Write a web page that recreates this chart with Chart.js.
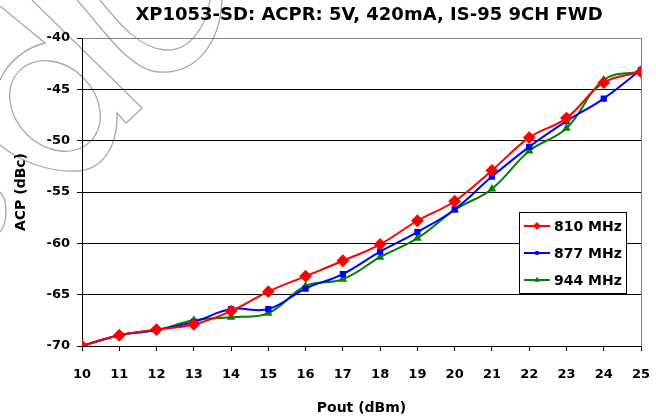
<!DOCTYPE html>
<html>
<head>
<meta charset="utf-8">
<script src="https://cdn.jsdelivr.net/npm/chart.js@4.4.0/dist/chart.umd.min.js"></script>
<style>
  html, body { margin: 0; padding: 0; background: #fff; }
  #wrap { width: 656px; height: 420px; }
</style>
</head>
<body>
<div id="wrap"><canvas id="acprChart" width="656" height="420"></canvas></div>
<script>
// Pout (dBm)
var pout = [10, 11, 12, 13, 14, 15, 16, 17, 18, 19, 20, 21, 22, 23, 24, 25];
// ACP (dBc) per frequency
var acp810 = [-70, -68.95, -68.4, -67.9, -66.6, -64.7, -63.2, -61.7, -60.1, -57.8, -55.9, -52.9, -49.7, -47.8, -44.35, -43.3];
var acp877 = [-70, -68.95, -68.45, -67.65, -66.4, -66.4, -64.4, -63.0, -60.8, -58.9, -56.7, -53.5, -50.6, -48.1, -45.9, -43.1];
var acp944 = [-70, -68.95, -68.45, -67.5, -67.2, -66.8, -64.15, -63.5, -61.35, -59.5, -56.75, -54.7, -51.0, -48.8, -44.1, -43.25];
var seriesNames = ['810 MHz', '877 MHz', '944 MHz'];
var chartTitle = 'XP1053-SD: ACPR: 5V, 420mA, IS-95 9CH FWD';

var fontFam = '"DejaVu Sans", sans-serif';

function pts(arr) {
    return arr.map(function (v, i) { return { x: pout[i], y: v }; });
}

// faint outlined logo watermark in the top left corner
var watermark = {
    id: 'watermark',
    beforeDraw: function (chart) {
        var c = chart.ctx;
        c.save();
        c.strokeStyle = '#a8a8a8';
        c.lineWidth = 1.3;
        c.beginPath();
        c.moveTo(32, 0);
        c.lineTo(142, 108);
        c.lineTo(126, 123);
        c.lineTo(117, 113);
        c.bezierCurveTo(118, 150, 100, 171, 75, 171);
        c.bezierCurveTo(50, 172, 20, 162, 0, 145);
        c.stroke();

        c.beginPath();
        c.moveTo(0, 6);
        c.lineTo(45, 43);
        c.bezierCurveTo(25, 48, 8, 62, 0, 80);
        c.stroke();

        c.beginPath();
        c.ellipse(55, 106, 50, 40, Math.PI / 4, 0, Math.PI * 2);
        c.stroke();

        c.beginPath();
        c.moveTo(100, 0);
        c.bezierCurveTo(120, 25, 140, 48, 165, 50);
        c.bezierCurveTo(190, 52, 207, 25, 210, 0);
        c.stroke();

        c.beginPath();
        c.moveTo(77, 0);
        c.bezierCurveTo(100, 25, 130, 72, 160, 72);
        c.bezierCurveTo(195, 74, 220, 45, 222, 0);
        c.stroke();

        c.beginPath();
        c.moveTo(0, 192);
        c.bezierCurveTo(8, 200, 8, 222, 0, 232);
        c.stroke();
        c.restore();
    }
};

// title, centred a bit right of the canvas like the original
var topTitle = {
    id: 'topTitle',
    afterDraw: function (chart) {
        var ctx = chart.ctx;
        ctx.save();
        ctx.fillStyle = '#000';
        ctx.font = 'bold 18px ' + fontFam;
        ctx.textAlign = 'center';
        ctx.textBaseline = 'middle';
        ctx.fillText(chartTitle, 369, 15);
        ctx.restore();
    }
};

// legend box inside the plot, like the Excel original
var boxLegend = {
    id: 'boxLegend',
    afterDraw: function (chart) {
        var ctx = chart.ctx;
        var area = chart.chartArea;
        var x0 = area.right - 122, y0 = area.bottom - 134;
        var w = 107, h = 81;
        var mk = [3.5, 2, 2.5];
        ctx.save();
        ctx.fillStyle = '#fff';
        ctx.fillRect(x0, y0, w, h);
        ctx.strokeStyle = '#000';
        ctx.lineWidth = 1;
        ctx.strokeRect(x0 + 0.5, y0 + 0.5, w, h);
        chart.data.datasets.forEach(function (ds, i) {
            var cy = y0 + 14 + i * 27;
            ctx.strokeStyle = ds.borderColor;
            ctx.lineWidth = 2;
            ctx.beginPath();
            ctx.moveTo(x0 + 5, cy);
            ctx.lineTo(x0 + 31, cy);
            ctx.stroke();
            ctx.fillStyle = ds.borderColor;
            ctx.lineWidth = 1;
            Chart.helpers.drawPoint(ctx, {
                pointStyle: ds.pointStyle,
                radius: mk[i],
                borderWidth: 1
            }, x0 + 18, cy);
            ctx.fillStyle = '#000';
            ctx.font = 'bold 14px ' + fontFam;
            ctx.textBaseline = 'middle';
            ctx.textAlign = 'left';
            ctx.fillText(ds.label, x0 + 35, cy + 1);
        });
        ctx.restore();
    }
};

var ctx = document.getElementById('acprChart').getContext('2d');
var myChart = new Chart(ctx, {
    type: 'line',
    data: {
        datasets: [{
            label: seriesNames[0],
            data: pts(acp810),
            borderColor: 'rgb(255, 0, 0)',
            backgroundColor: 'rgb(255, 0, 0)',
            pointStyle: 'rectRot',
            pointRadius: 5,
            borderWidth: 2
        }, {
            label: seriesNames[1],
            data: pts(acp877),
            borderColor: 'rgb(0, 0, 255)',
            backgroundColor: 'rgb(0, 0, 255)',
            pointStyle: 'rect',
            pointRadius: 3,
            borderWidth: 2
        }, {
            label: seriesNames[2],
            data: pts(acp944),
            borderColor: 'rgb(0, 128, 0)',
            backgroundColor: 'rgb(0, 128, 0)',
            pointStyle: 'triangle',
            pointRadius: 3,
            borderWidth: 2
        }]
    },
    options: {
        responsive: false,
        animation: false,
        tension: 0.4,
        layout: { padding: { left: 0, right: 15, top: 38, bottom: 0 } },
        plugins: {
            legend: { display: false },
            tooltip: { enabled: false },
            title: { display: false }
        },
        scales: {
            x: {
                type: 'linear',
                min: 10,
                max: 25,
                ticks: {
                    stepSize: 1,
                    color: '#000',
                    padding: 16,
                    font: { family: fontFam, size: 13, weight: 'bold' }
                },
                grid: {
                    color: function (c) { return c.tick && c.tick.value === 25 ? '#808080' : 'rgba(0,0,0,0)'; },
                    tickColor: '#000',
                    tickLength: 5
                },
                border: { color: '#000', width: 1 },
                title: {
                    display: true,
                    text: 'Pout (dBm)',
                    color: '#000',
                    font: { family: fontFam, size: 14, weight: 'bold' },
                    padding: { top: 0, bottom: 3 }
                },
                afterFit: function (s) {
                    s.height = 74;
                    s.paddingRight = 0;
                    s.paddingLeft = 0;
                }
            },
            y: {
                min: -70,
                max: -40,
                ticks: {
                    stepSize: 5,
                    color: '#000',
                    padding: 7,
                    font: { family: fontFam, size: 13, weight: 'bold' }
                },
                grid: {
                    color: function (c) { return c.tick && c.tick.value === -40 ? '#808080' : '#000'; },
                    tickColor: '#000',
                    tickLength: 5
                },
                border: { color: '#000', width: 1 },
                title: {
                    display: true,
                    text: 'ACP (dBc)',
                    color: '#000',
                    font: { family: fontFam, size: 14, weight: 'bold' },
                    padding: { top: 13, bottom: 0 }
                },
                afterFit: function (s) { s.width = 82; }
            }
        }
    },
    plugins: [watermark, boxLegend, topTitle]
});
</script>
</body>
</html>
